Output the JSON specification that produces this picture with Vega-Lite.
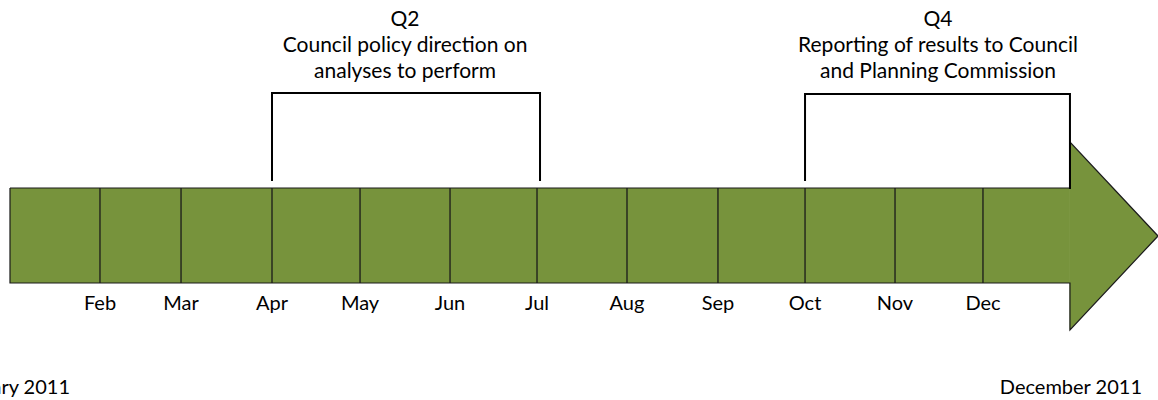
{
  "$schema": "https://vega.github.io/schema/vega-lite/v6.json",
  "width": 1158,
  "height": 400,
  "autosize": {"type": "none"},
  "padding": 0,
  "background": "white",
  "config": {"view": {"stroke": null}},
  "encoding": {
    "x": {"field": "pos", "type": "quantitative", "scale": {"domain": [0.9, 14.0], "nice": false, "zero": false}, "axis": null},
    "y": {"field": "y", "type": "quantitative", "scale": {"domain": [0, 400], "reverse": true, "nice": false, "zero": false}, "axis": null}
  },
  "layer": [
    {
      "data": {"values": [
        {"pos": 1.013, "pos2": 13.004, "y": 188, "y2": 283}
      ]},
      "mark": {"type": "rect", "fill": "#77933C", "strokeWidth": 0},
      "encoding": {
        "x2": {"field": "pos2"},
        "y2": {"field": "y2"}
      }
    },
    {
      "data": {"values": [
        {"pos": 13.0, "y": 142, "lo": 330},
        {"pos": 14.0, "y": 236, "lo": 236}
      ]},
      "mark": {"type": "area", "fill": "#77933C", "strokeWidth": 0, "orient": "vertical"},
      "encoding": {
        "y": {"field": "y", "type": "quantitative", "stack": null},
        "y2": {"field": "lo"}
      }
    },
    {
      "data": {"values": [
        {"ord": 1, "pos": 1.013, "y": 188},
        {"ord": 2, "pos": 13.004, "y": 188},
        {"ord": 3, "pos": 13.004, "y": 142},
        {"ord": 4, "pos": 14.0, "y": 236},
        {"ord": 5, "pos": 13.004, "y": 330},
        {"ord": 6, "pos": 13.004, "y": 283},
        {"ord": 7, "pos": 1.013, "y": 283},
        {"ord": 8, "pos": 1.013, "y": 188}
      ]},
      "mark": {"type": "line", "color": "#1a1a1a", "strokeWidth": 1.2, "strokeJoin": "miter"},
      "encoding": {
        "order": {"field": "ord", "type": "quantitative"}
      }
    },
    {
      "data": {"values": [
        {"pos": 2.031, "y": 188, "y2": 283},
        {"pos": 2.948, "y": 188, "y2": 283},
        {"pos": 3.977, "y": 188, "y2": 283},
        {"pos": 4.973, "y": 188, "y2": 283},
        {"pos": 5.991, "y": 188, "y2": 283},
        {"pos": 6.975, "y": 188, "y2": 283},
        {"pos": 7.993, "y": 188, "y2": 283},
        {"pos": 9.022, "y": 188, "y2": 283},
        {"pos": 10.007, "y": 188, "y2": 283},
        {"pos": 11.025, "y": 188, "y2": 283},
        {"pos": 12.020, "y": 188, "y2": 283}
      ]},
      "mark": {"type": "rule", "color": "#1a1a1a", "strokeWidth": 1.3},
      "encoding": {"y2": {"field": "y2"}}
    },
    {
      "data": {"values": [
        {"bracket": "Q2", "ord": 1, "pos": 3.977, "y": 180},
        {"bracket": "Q2", "ord": 2, "pos": 3.977, "y": 93},
        {"bracket": "Q2", "ord": 3, "pos": 7.009, "y": 93},
        {"bracket": "Q2", "ord": 4, "pos": 7.009, "y": 180},
        {"bracket": "Q4", "ord": 1, "pos": 10.007, "y": 180},
        {"bracket": "Q4", "ord": 2, "pos": 10.007, "y": 94},
        {"bracket": "Q4", "ord": 3, "pos": 13.004, "y": 94},
        {"bracket": "Q4", "ord": 4, "pos": 13.004, "y": 188}
      ]},
      "mark": {"type": "line", "color": "#000000", "strokeWidth": 2, "strokeCap": "square"},
      "encoding": {
        "detail": {"field": "bracket", "type": "nominal"},
        "order": {"field": "ord", "type": "quantitative"}
      }
    },
    {
      "data": {"values": [
        {"pos": 5.482, "y": 20, "label": "Q2"},
        {"pos": 5.482, "y": 46, "label": "Council policy direction on"},
        {"pos": 5.482, "y": 72, "label": "analyses to perform"},
        {"pos": 11.511, "y": 20, "label": "Q4"},
        {"pos": 11.511, "y": 46, "label": "Reporting of results to Council"},
        {"pos": 11.511, "y": 72, "label": "and Planning Commission"}
      ]},
      "mark": {"type": "text", "font": "Lato", "fontSize": 21, "color": "#000000", "align": "center", "baseline": "middle"},
      "encoding": {"text": {"field": "label", "type": "nominal"}}
    },
    {
      "data": {"values": [
        {"pos": 2.031, "y": 304, "label": "Feb"},
        {"pos": 2.948, "y": 304, "label": "Mar"},
        {"pos": 3.977, "y": 304, "label": "Apr"},
        {"pos": 4.973, "y": 304, "label": "May"},
        {"pos": 5.991, "y": 304, "label": "Jun"},
        {"pos": 6.975, "y": 304, "label": "Jul"},
        {"pos": 7.993, "y": 304, "label": "Aug"},
        {"pos": 9.022, "y": 304, "label": "Sep"},
        {"pos": 10.007, "y": 304, "label": "Oct"},
        {"pos": 11.025, "y": 304, "label": "Nov"},
        {"pos": 12.020, "y": 304, "label": "Dec"}
      ]},
      "mark": {"type": "text", "font": "Lato", "fontSize": 20, "color": "#000000", "align": "center", "baseline": "middle"},
      "encoding": {"text": {"field": "label", "type": "nominal"}}
    },
    {
      "data": {"values": [
        {"pos": 1.692, "y": 388, "label": "January 2011"},
        {"pos": 13.819, "y": 388, "label": "December 2011"}
      ]},
      "mark": {"type": "text", "font": "Lato", "fontSize": 20, "color": "#000000", "align": "right", "baseline": "middle"},
      "encoding": {"text": {"field": "label", "type": "nominal"}}
    }
  ]
}
